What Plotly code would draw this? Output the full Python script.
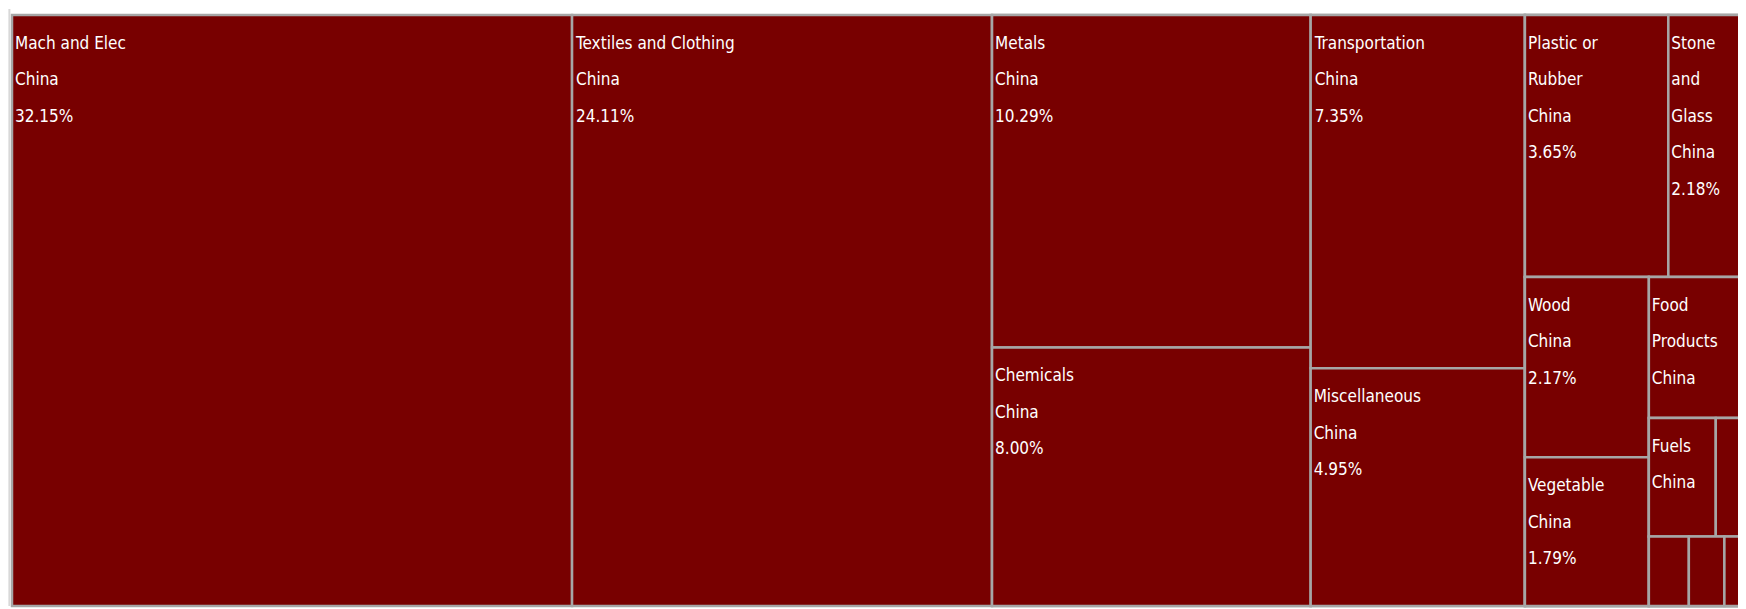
import plotly.graph_objects as go

# ---- data -------------------------------------------------------------
categories = ["Mach and Elec", "Textiles and Clothing", "Metals", "Chemicals",
              "Transportation", "Miscellaneous", "Plastic or Rubber", "Stone and Glass",
              "Wood", "Vegetable", "Food Products", "Fuels", "Footwear",
              "Hides and Skins", "Animal", "Minerals"]
display_names = ["Mach and Elec", "Textiles and Clothing", "Metals", "Chemicals",
                 "Transportation", "Miscellaneous", "Plastic or|Rubber", "Stone|and|Glass",
                 "Wood", "Vegetable", "Food|Products", "Fuels", "Footwear",
                 "Hides and Skins", "Animal", "Minerals"]
shares = [32.15, 24.11, 10.29, 8.00, 7.35, 4.95, 3.65, 2.18,
          2.17, 1.79, 1.44, 0.77, 0.44, 0.27, 0.24, 0.20]
partner = "China"

# grouping of the sectors into the blocks of the reference picture
group_ids = ["g1", "g2", "g3", "g3a", "g3b", "g3b1", "g3b2", "g3b2a", "g3b2b"]
group_parents = ["", "", "", "g3", "g3", "g3b", "g3b", "g3b2", "g3b2"]
category_parents = ["", "", "g1", "g1", "g2", "g2", "g3a", "g3a",
                    "g3b1", "g3b1", "g3b2", "g3b2a", "g3b2a", "g3b2b", "g3b2b", "g3b2b"]
# how much of each label is legible in its tile
label_detail = ["full", "full", "full", "full", "full", "full", "full", "full",
                "full", "full", "name", "name", "none", "none", "none", "none"]

# ---- build trace ------------------------------------------------------
GLYPH = 17   # visible glyph size; the line pitch comes from the larger base font
STRUT = 33   # invisible spacer on the first line pushes the text block down


def line(s):
    return "<span style='font-size:%dpx'>%s</span>" % (GLYPH, s)


def make_template(name, detail):
    if detail == "none":
        return " "
    parts = [line(p) for p in name.split("|")] + [line(partner)]
    if detail == "full":
        parts.append(line("%{value:.2f}%"))
    parts[0] += "<span style='font-size:%dpx'>\u00a0</span>" % STRUT
    return "<br>".join(parts)


order_ids = ["Mach and Elec", "Textiles and Clothing", "g1", "g2", "g3"]
ids, labels, parents, values, ttemp = [], [], [], [], []


def add_cat(i):
    ids.append(categories[i]); labels.append(categories[i]); parents.append(category_parents[i])
    values.append(shares[i])
    ttemp.append(make_template(display_names[i], label_detail[i]))


def add_node(node):
    if node in group_ids:
        j = group_ids.index(node)
        ids.append(node); labels.append(""); parents.append(group_parents[j])
        values.append(0); ttemp.append(" ")
        kids = [c for c, p in zip(categories, category_parents) if p == node]
        subs = [g for g, p in zip(group_ids, group_parents) if p == node]
        for k in kids:
            add_cat(categories.index(k))
        for s in subs:
            add_node(s)
    else:
        add_cat(categories.index(node))


for n in order_ids:
    add_node(n)

fig = go.Figure(go.Treemap(
    ids=ids,
    labels=labels,
    parents=parents,
    values=values,
    branchvalues="remainder",
    texttemplate=ttemp,
    textinfo="none",
    textposition="top left",
    textfont=dict(family="DejaVu Sans Condensed, Liberation Sans Narrow, Arial Narrow, sans-serif",
                  size=28, color="white"),
    marker=dict(colors=["#780000"] * len(ids),
                line=dict(color="#a6a6a6", width=2.5),
                pad=dict(t=0, l=0, r=0, b=0)),
    tiling=dict(packing="slice-dice", pad=0),
    pathbar=dict(visible=False),
    sort=False,
    hoverinfo="label+value",
))

fig.update_layout(
    width=1746, height=601,
    autosize=False,
    margin=dict(l=4, r=0, t=7, b=3),
    paper_bgcolor="white",
    uniformtext=dict(minsize=28, mode="show"),
    shapes=[dict(type="line", xref="paper", yref="paper", x0=-0.0015, x1=-0.0015, y0=0, y1=1.01,
                 line=dict(color="#d8d8d8", width=2))],
)

fig.write_html("out.html", config={"responsive": False})
